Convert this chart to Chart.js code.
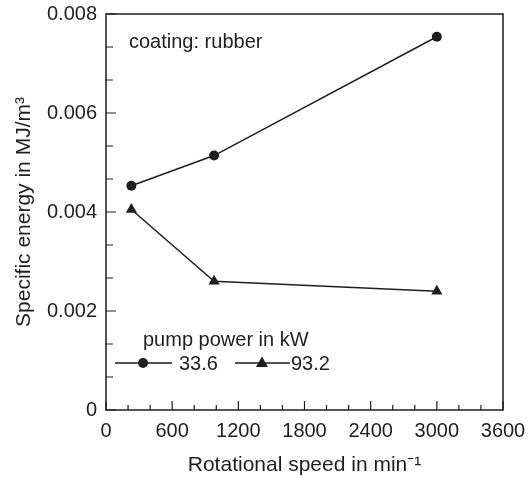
<!DOCTYPE html>
<html>
<head>
<meta charset="utf-8">
<script src="https://cdn.jsdelivr.net/npm/chart.js@4"></script>
<style>
html, body { margin: 0; padding: 0; background: #fff; }
</style>
</head>
<body>
<canvas id="chart" width="528" height="478"></canvas>
<script>
// data
const speeds = [230, 980, 3000];
const energy336 = [0.00453, 0.00514, 0.00754];
const energy932 = [0.00405, 0.0026, 0.0024];
const seriesLabels = ['33.6', '93.2'];
const xTickValues = [0, 600, 1200, 1800, 2400, 3000, 3600];
const yTickValues = [0, 0.002, 0.004, 0.006, 0.008];

const ink = '#1e1e1e';
const FONT = '"Liberation Sans", Arial, sans-serif';

// frame, inward ticks and in-plot texts
const framePlugin = {
  id: 'frame',
  afterDraw(chart) {
    const { ctx, chartArea: a, scales: { x, y } } = chart;
    ctx.save();
    ctx.strokeStyle = ink;
    ctx.lineWidth = 1.5;
    ctx.strokeRect(a.left, a.top, a.right - a.left, a.bottom - a.top);

    ctx.lineWidth = 1.2;
    ctx.beginPath();
    for (let v = 0; v <= 3600; v += 200) {
      const px = x.getPixelForValue(v);
      const len = v % 600 === 0 ? 9 : 5;
      ctx.moveTo(px, a.bottom);
      ctx.lineTo(px, a.bottom - len);
    }
    for (let i = 0; i <= 12; i++) {
      const py = y.getPixelForValue(i * 0.008 / 12);
      const len = i % 3 === 0 ? 10 : 7;
      ctx.moveTo(a.left, py);
      ctx.lineTo(a.left + len, py);
    }
    ctx.stroke();

    ctx.fillStyle = ink;
    ctx.font = '20px ' + FONT;
    ctx.textBaseline = 'alphabetic';
    ctx.fillText('coating: rubber', 129, 48);
    ctx.fillText('pump power in kW', 143, 346);

    // legend row
    const ly = 363;
    ctx.lineWidth = 1.5;
    ctx.beginPath();
    ctx.moveTo(115, ly); ctx.lineTo(172, ly);
    ctx.moveTo(235, ly); ctx.lineTo(290, ly);
    ctx.stroke();
    ctx.beginPath();
    ctx.arc(143, ly, 5, 0, Math.PI * 2);
    ctx.fill();
    ctx.beginPath();
    ctx.moveTo(262, ly - 6.5);
    ctx.lineTo(268, ly + 4);
    ctx.lineTo(256, ly + 4);
    ctx.closePath();
    ctx.fill();
    ctx.textBaseline = 'middle';
    ctx.fillText(seriesLabels[0], 179, ly + 1);
    ctx.fillText(seriesLabels[1], 291, ly + 1);
    ctx.restore();
  }
};

new Chart(document.getElementById('chart'), {
  type: 'line',
  data: {
    datasets: [
      {
        label: seriesLabels[0],
        data: speeds.map((s, i) => ({ x: s, y: energy336[i] })),
        borderColor: ink,
        backgroundColor: ink,
        borderWidth: 1.5,
        pointStyle: 'circle',
        pointRadius: 5,
        pointBorderWidth: 0,
        tension: 0
      },
      {
        label: seriesLabels[1],
        data: speeds.map((s, i) => ({ x: s, y: energy932[i] })),
        borderColor: ink,
        backgroundColor: ink,
        borderWidth: 1.5,
        pointStyle: 'triangle',
        pointRadius: 6.5,
        pointBorderWidth: 0,
        tension: 0
      }
    ]
  },
  options: {
    responsive: false,
    animation: false,
    layout: { padding: { top: 14, right: 25, left: 0, bottom: 0 } },
    plugins: {
      legend: { display: false },
      tooltip: { enabled: false }
    },
    scales: {
      x: {
        type: 'linear',
        min: 0,
        max: 3600,
        afterBuildTicks: s => { s.ticks = xTickValues.map(v => ({ value: v })); },
        afterFit: s => { s.height = 68; },
        grid: { display: true, drawOnChartArea: false, drawTicks: true, tickLength: 9, color: 'rgba(0,0,0,0)' },
        border: { display: false },
        ticks: {
          color: ink,
          font: { family: FONT, size: 20 },
          padding: 0,
          maxRotation: 0,
          autoSkip: false,
          callback: v => String(v)
        },
        title: {
          display: true,
          text: 'Rotational speed in min\u207B\u00B9',
          color: ink,
          font: { family: FONT, size: 21 },
          padding: { top: 0, bottom: 0 }
        }
      },
      y: {
        type: 'linear',
        min: 0,
        max: 0.008,
        afterBuildTicks: s => { s.ticks = yTickValues.map(v => ({ value: v })); },
        afterFit: s => { s.width = 106; },
        grid: { display: true, drawOnChartArea: false, drawTicks: true, tickLength: 9, color: 'rgba(0,0,0,0)' },
        border: { display: false },
        ticks: {
          color: ink,
          font: { family: FONT, size: 20 },
          padding: 0,
          autoSkip: false,
          callback: v => (v === 0 ? '0' : v.toFixed(3))
        },
        title: {
          display: true,
          text: 'Specific energy in MJ/m\u00B3',
          color: ink,
          font: { family: FONT, size: 21 },
          padding: { top: 12, bottom: 0 }
        }
      }
    }
  },
  plugins: [framePlugin]
});
</script>
</body>
</html>
